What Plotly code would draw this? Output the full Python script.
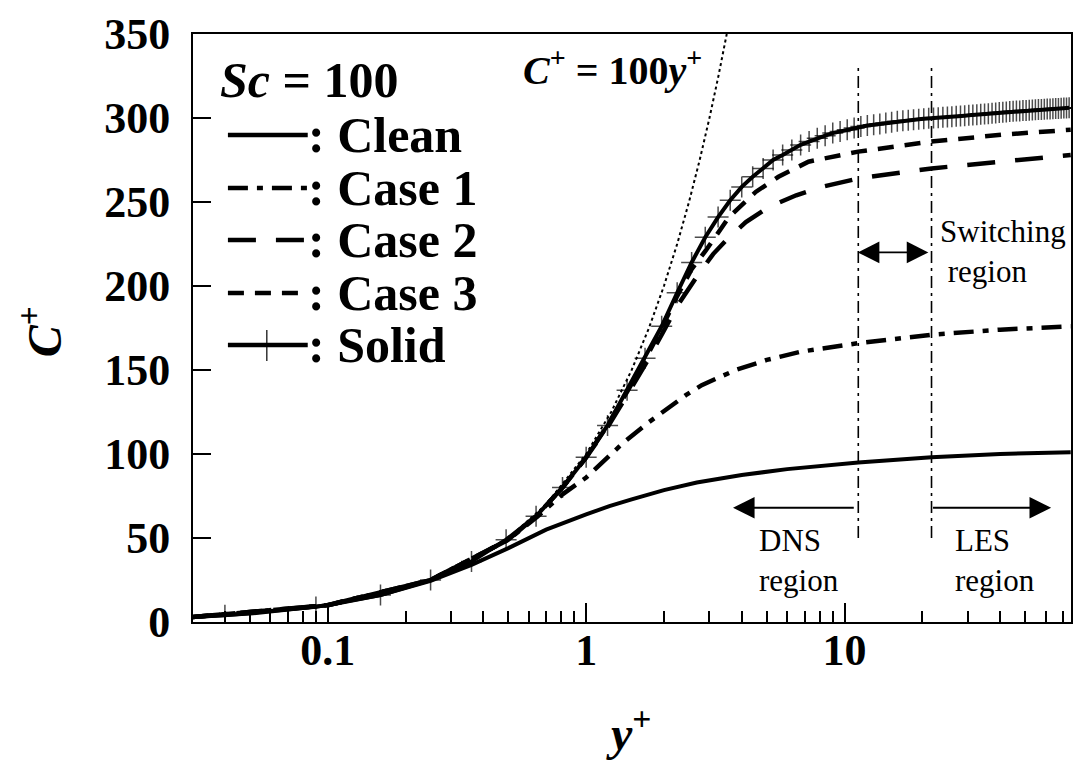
import plotly.graph_objects as go
import numpy as np

# ---------------- data ----------------
# Solid (markers every point of the stretched grid)
yplus_solid = [0.03, 0.04, 0.09, 0.16, 0.25, 0.36, 0.49, 0.64, 0.81, 1.00, 1.21, 1.44, 1.69, 1.96, 2.25,
               2.56, 2.89, 3.24, 3.61, 4.00, 4.41, 4.84, 5.29, 5.76, 6.25, 6.76, 7.29, 7.84,
               8.41, 9.00, 9.61, 10.24, 10.89, 11.56, 12.25, 12.96, 13.69, 14.44, 15.21,
               16.00, 16.81, 17.64, 18.49, 19.36, 20.25, 21.16, 22.09, 23.04, 24.01, 25.00,
               26.01, 27.04, 28.09, 29.16, 30.25, 31.36, 32.49, 33.64, 34.81, 36.00, 37.21,
               38.44, 39.69, 40.96, 42.25, 43.56, 44.89, 46.24, 47.61, 49.00, 50.41, 51.84,
               53.29, 54.76, 56.25, 57.76, 59.29, 60.84, 62.41, 64.00, 65.61, 67.24, 68.89,
               70.56, 72.25, 73.96]
c_solid = [3, 4, 9, 16, 25, 36, 49, 63, 80, 98, 117, 138, 157, 176, 196,
           214, 229, 241, 251, 259, 265, 270, 275, 278, 281, 284, 286, 288,
           289.5, 291, 292, 293, 294, 295, 295.5, 296, 296.5, 297, 297.5,
           298, 298.3, 298.6, 298.9, 299.2, 299.5, 299.8, 300, 300.2, 300.4, 300.6,
           300.8, 301, 301.2, 301.4, 301.6, 301.8, 302, 302.2, 302.4, 302.6, 302.8,
           303, 303.2, 303.4, 303.6, 303.8, 304, 304.1, 304.2, 304.4, 304.5, 304.6,
           304.8, 304.9, 305, 305.1, 305.2, 305.3, 305.4, 305.5, 305.6, 305.7, 305.8,
           305.9, 306, 306.1]

yplus_clean = [0.03, 0.05, 0.1, 0.16, 0.25, 0.36, 0.5, 0.7, 1.0, 1.23, 1.5, 2.0, 2.68, 4.0, 6.0, 11.3, 21.7, 40.0, 75.0]
c_clean = [3, 5, 10, 16, 24.5, 34, 44, 55, 64, 69, 73, 78.5, 83, 87.5, 91, 95, 98, 100, 101]

yplus_case1 = [0.03, 0.1, 0.25, 0.5, 0.65, 0.81, 1.0, 1.12, 1.4, 1.75, 2.09, 2.43, 2.8, 3.79, 5.0, 6.82, 11.3, 21.7, 40.0, 75.0]
c_case1 = [3, 10, 25, 49, 63, 76, 86, 93, 107, 119, 128, 135, 141, 150, 156, 161, 166, 171, 174, 176]

yplus_case2 = [0.03, 0.1, 0.25, 0.5, 0.64, 0.81, 1.0, 1.21, 1.44, 1.69, 1.96, 2.25, 2.72, 3.1, 3.57, 4.15, 5.09, 6.5, 8.15, 11.3, 21.7, 40.0, 75.0]
c_case2 = [3, 10, 25, 49, 63, 80, 98, 116, 135, 153, 171, 188, 207, 219, 229, 238, 247, 254, 259, 264, 270, 274, 278]

yplus_case3 = [0.03, 0.1, 0.25, 0.5, 0.64, 0.81, 1.0, 1.21, 1.44, 1.69, 1.96, 2.25, 2.56, 2.9, 3.57, 4.53, 5.55, 7.25, 11.3, 21.7, 40.4, 75.0]
c_case3 = [3, 10, 25, 49, 63, 80, 98, 117, 137, 156, 175, 194, 210, 221, 241, 256, 265, 274, 280, 286, 290, 293]

yplus_lin = [0.03, 0.05, 0.1, 0.2, 0.3, 0.5, 0.7, 1.0, 1.25, 1.5, 1.75, 2.0, 2.25, 2.5, 2.75, 3.0, 3.25, 3.5]
c_lin = [3, 5, 10, 20, 30, 50, 70, 100, 125, 150, 175, 200, 225, 250, 275, 300, 325, 350]

switch_yplus = [11.3, 21.7]
switch_c = [50, 330]

x_tickvals = [0.1, 1, 10]
x_ticktext = ["0.1", "1", "10"]
x_minor = [0.04, 0.05, 0.06, 0.07, 0.08, 0.09, 0.2, 0.3, 0.4, 0.5, 0.6, 0.7, 0.8, 0.9,
           2, 3, 4, 5, 6, 7, 8, 9, 20, 30, 40, 50, 60, 70]
y_tickvals = [0, 50, 100, 150, 200, 250, 300, 350]

# ---------------- layout geometry ----------------
W, H = 1076, 761
L, R, T, B = 193, 1073, 34, 622
FONT = "Liberation Serif"

def px(x):
    return (x - L) / (R - L)

def py(y):
    return (B - y) / (B - T)

fig = go.Figure()

lw = 4
fig.add_trace(go.Scatter(x=yplus_lin, y=c_lin, mode="lines",
                         line=dict(color="black", width=2, dash="3px,3px"), showlegend=False))
fig.add_trace(go.Scatter(x=yplus_clean, y=c_clean, mode="lines", line=dict(color="black", width=lw),
                         showlegend=False, name="Clean"))
fig.add_trace(go.Scatter(x=yplus_case1, y=c_case1, mode="lines",
                         line=dict(color="black", width=4.5, dash="20px,9px,6px,9px"),
                         showlegend=False, name="Case 1"))
fig.add_trace(go.Scatter(x=yplus_case2, y=c_case2, mode="lines",
                         line=dict(color="black", width=4.5, dash="28px,20px"),
                         showlegend=False, name="Case 2"))
fig.add_trace(go.Scatter(x=yplus_case3, y=c_case3, mode="lines",
                         line=dict(color="black", width=4.5, dash="16px,11px"),
                         showlegend=False, name="Case 3"))
fig.add_trace(go.Scatter(x=yplus_solid, y=c_solid, mode="lines+markers",
                         line=dict(color="black", width=lw),
                         marker=dict(symbol="cross-thin", size=[0] + [15] * (len(yplus_solid) - 1),
                                     color="black", line=dict(color="black", width=1.5)),
                         showlegend=False, name="Solid"))
for xv in switch_yplus:
    fig.add_trace(go.Scatter(x=[xv, xv], y=switch_c, mode="lines",
                             line=dict(color="black", width=1.6, dash="12px,5px,3px,5px"),
                             showlegend=False))

ann = []
# arrows (log axis -> annotation coords are log10)
arrow_kw = dict(showarrow=True, text="", arrowcolor="black", arrowwidth=1.8, arrowsize=2.4,
                arrowhead=2, xref="x", yref="y", axref="x", ayref="y")
ann.append(dict(x=np.log10(3.7), y=68, ax=np.log10(11.0), ay=68, **arrow_kw))
ann.append(dict(x=np.log10(63.0), y=68, ax=np.log10(21.7), ay=68, **arrow_kw))
ann.append(dict(x=np.log10(21.1), y=220, ax=np.log10(11.1), ay=220, arrowside="end+start",
                startarrowhead=2, startarrowsize=2.4, **arrow_kw))

txt_font = dict(family=FONT, size=31, color="black")
ann.append(dict(x=px(940), y=py(252), xref="paper", yref="paper", text="Switching<br> region",
                showarrow=False, xanchor="left", yanchor="middle", align="left", font=txt_font))
ann.append(dict(x=px(758), y=py(560), xref="paper", yref="paper", text="DNS<br>region",
                showarrow=False, xanchor="left", yanchor="middle", align="left", font=txt_font))
ann.append(dict(x=px(955), y=py(560), xref="paper", yref="paper", text="LES<br>region",
                showarrow=False, xanchor="left", yanchor="middle", align="left", font=txt_font))

bold_font = dict(family=FONT, size=40, color="black", weight="bold")
ann.append(dict(x=px(522), y=py(67), xref="paper", yref="paper",
                text="<i>C</i><sup>+</sup> = 100<i>y</i><sup>+</sup>",
                showarrow=False, xanchor="left", yanchor="middle", font=bold_font))

# legend (manual)
leg_font = dict(family=FONT, size=50, color="black", weight="bold")
ann.append(dict(x=px(218), y=py(80), xref="paper", yref="paper", text="<i>Sc</i> = 100",
                showarrow=False, xanchor="left", yanchor="middle", font=leg_font))
rows = [(": Clean", 135, "solid"), (": Case 1", 188, "20px,9px,6px,9px"), (": Case 2", 240, "28px,20px"),
        (": Case 3", 293, "16px,11px"), (": Solid", 345, "solid")]
shapes = []
for label, yy, dash in rows:
    ann.append(dict(x=px(306), y=py(yy), xref="paper", yref="paper", text=label,
                    showarrow=False, xanchor="left", yanchor="middle", font=leg_font))
    shapes.append(dict(type="line", xref="paper", yref="paper", x0=px(228), x1=px(308),
                       y0=py(yy), y1=py(yy), line=dict(color="black", width=4.5, dash=dash)))
shapes.append(dict(type="line", xref="paper", yref="paper", x0=px(267), x1=px(267),
                   y0=py(330), y1=py(361), line=dict(color="black", width=1.2)))

# axis titles
title_font = dict(family=FONT, size=48, color="black", weight="bold")
ann.append(dict(x=px(40), y=py(332), xref="paper", yref="paper", text="<i>C</i><sup>+</sup>",
                showarrow=False, textangle=-90, xanchor="center", yanchor="middle", font=title_font))
ann.append(dict(x=px(629), y=py(730), xref="paper", yref="paper", text="<i>y</i><sup>+</sup>",
                showarrow=False, xanchor="center", yanchor="middle", font=title_font))

tick_font = dict(family=FONT, size=44, color="black", weight="bold")
fig.update_layout(
    width=W, height=H,
    margin=dict(l=L, r=W - R, t=T, b=H - B),
    paper_bgcolor="white", plot_bgcolor="white",
    xaxis=dict(type="log", range=[np.log10(0.0301), np.log10(75.2)],
               tickvals=x_tickvals, ticktext=x_ticktext, ticks="inside", ticklen=19, tickwidth=2,
               tickcolor="black", showgrid=False, zeroline=False, showline=True, linecolor="black",
               linewidth=2, mirror=True, tickfont=tick_font, ticklabelstandoff=-12,
               minor=dict(tickvals=x_minor, ticks="inside", ticklen=11, tickwidth=2,
                          tickcolor="black", showgrid=False)),
    yaxis=dict(range=[0, 350], tickvals=y_tickvals, ticks="inside", ticklen=18, tickwidth=2,
               tickcolor="black", showgrid=False, zeroline=False, showline=True, linecolor="black",
               linewidth=2, mirror=True, tickfont=tick_font, ticklabelstandoff=12),
    annotations=ann, shapes=shapes,
)

fig.write_html("out.html")
